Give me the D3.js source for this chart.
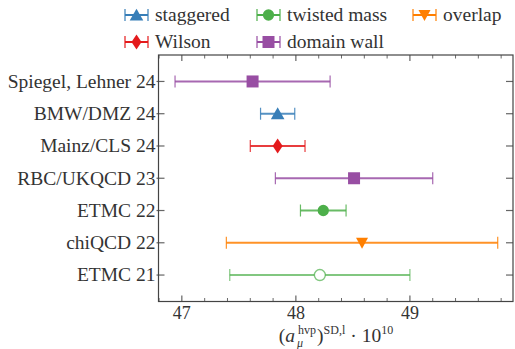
<!DOCTYPE html>
<html>
<head>
<meta charset="utf-8">
<script src="https://cdn.jsdelivr.net/npm/d3@7"></script>
<style>
  html, body { margin: 0; padding: 0; background: #fff; }
  svg { display: block; }
  svg text { font-family: "Liberation Serif", "DejaVu Serif", serif; fill: #333; }
</style>
</head>
<body>
<svg id="chart" width="515" height="349"></svg>
<script>
// Results, listed bottom to top
const labels = ["ETMC 21", "chiQCD 22", "ETMC 22", "RBC/UKQCD 23", "Mainz/CLS 24", "BMW/DMZ 24", "Spiegel, Lehner 24"];
const values = [48.21, 48.58, 48.24, 48.51, 47.84, 47.84, 47.62];
const errors = [0.79, 1.19, 0.20, 0.69, 0.24, 0.15, 0.68];
const actions = ["twisted mass", "overlap", "twisted mass", "domain wall", "Wilson", "staggered", "domain wall"];
const openMarker = [true, false, false, false, false, false, false];

// Lattice fermion discretisations (legend order)
const legendRows = [["staggered", "twisted mass", "overlap"], ["Wilson", "domain wall"]];
const actionColor = {
  "staggered": "#377eb8",
  "twisted mass": "#4daf4a",
  "overlap": "#ff7f00",
  "Wilson": "#e41a1c",
  "domain wall": "#984ea3"
};
const xTicks = [47, 48, 49];

const FS = 19.5;
const SERIF = "Liberation Serif, DejaVu Serif, serif";
const svg = d3.select("#chart");
const plot = { left: 158.5, right: 513, top: 55, bottom: 301.5 };

const x = d3.scaleLinear().domain([46.795, 49.904]).range([plot.left, plot.right]);
const y = d3.scaleLinear().domain([-0.82, 6.82]).range([plot.bottom, plot.top]);

// marker shapes
function markerPath(action) {
  switch (action) {
    case "staggered": return d3.symbol().type(d3.symbolTriangle).size(80)();
    case "twisted mass": return d3.symbol().type(d3.symbolCircle).size(100)();
    case "overlap": return "M-6,-5L6,-5L0,6Z";
    case "Wilson": return "M0,-7.5L5,0L0,7.5L-5,0Z";
    case "domain wall": return "M-6,-6L6,-6L6,6L-6,6Z";
  }
}
function markerOffset(action) {
  return action === "staggered" ? 1.5 : 0;
}

const axisColor = "#444";
const tickColor = "#666";

// x axis ticks (bottom and top, pointing inward)
const minor = d3.range(46.8, 49.91, 0.2).filter(v => !xTicks.some(t => Math.abs(t - v) < 1e-6));
const gTicks = svg.append("g");
xTicks.forEach(t => {
  gTicks.append("line").attr("x1", x(t)).attr("x2", x(t)).attr("y1", plot.bottom).attr("y2", plot.bottom - 6)
    .attr("stroke", axisColor).attr("stroke-width", 1);
  gTicks.append("line").attr("x1", x(t)).attr("x2", x(t)).attr("y1", plot.top).attr("y2", plot.top + 6)
    .attr("stroke", axisColor).attr("stroke-width", 1);
});
minor.forEach(t => {
  gTicks.append("line").attr("x1", x(t)).attr("x2", x(t)).attr("y1", plot.bottom).attr("y2", plot.bottom - 3.5)
    .attr("stroke", axisColor).attr("stroke-width", 0.8);
  gTicks.append("line").attr("x1", x(t)).attr("x2", x(t)).attr("y1", plot.top).attr("y2", plot.top + 3.5)
    .attr("stroke", axisColor).attr("stroke-width", 0.8);
});

// y ticks on both sides
labels.forEach((l, i) => {
  gTicks.append("line").attr("x1", plot.left - 2).attr("x2", plot.left + 6).attr("y1", y(i)).attr("y2", y(i))
    .attr("stroke", tickColor).attr("stroke-width", 1.2);
  gTicks.append("line").attr("x1", plot.right - 7).attr("x2", plot.right).attr("y1", y(i)).attr("y2", y(i))
    .attr("stroke", tickColor).attr("stroke-width", 1.2);
});

svg.append("rect").attr("x", plot.left).attr("y", plot.top)
  .attr("width", plot.right - plot.left).attr("height", plot.bottom - plot.top)
  .attr("fill", "none").attr("stroke", axisColor).attr("stroke-width", 1.2);

// tick labels
svg.append("g").selectAll("text").data(xTicks).join("text")
  .attr("x", d => x(d)).attr("y", plot.bottom + 17.5)
  .attr("font-family", SERIF)
  .attr("text-anchor", "middle").attr("font-size", 18).text(d => d);

svg.append("g").selectAll("text").data(labels).join("text")
  .attr("x", plot.left - 3).attr("y", (d, i) => y(i)).attr("dy", "0.33em")
  .attr("font-family", SERIF)
  .attr("text-anchor", "end").attr("font-size", FS).text(d => d);

// x axis label: (a_mu^hvp)^{SD,l} · 10^10, built piece by piece
const xlY = 342;
function piece(txt, dy, size, italic) {
  return svg.append("text").attr("y", xlY + dy).attr("font-size", size)
    .attr("font-family", SERIF)
    .attr("font-style", italic ? "italic" : null).text(txt);
}
const pOpen = piece("(", 0, FS);
const pA = piece("a", 0, FS, true);
const pHvp = piece("hvp", -8, 12);
const pMu = piece("μ", 5, 12, true);
const pClose = piece(")", 0, FS);
const pSD = piece("SD,l", -8, 12);
const pDot = piece("· 10", 0, FS);
const pExp = piece("10", -8, 12);
const w = t => t.node().getComputedTextLength();
const scriptW = Math.max(w(pHvp), w(pMu));
const total = w(pOpen) + w(pA) + 3 + scriptW + 1 + w(pClose) + w(pSD) + 5 + w(pDot) + w(pExp);
let cx = 336 - total / 2;
pOpen.attr("x", cx); cx += w(pOpen);
pA.attr("x", cx); cx += w(pA) + 3;
pHvp.attr("x", cx); pMu.attr("x", cx - 1); cx += scriptW + 1;
pClose.attr("x", cx); cx += w(pClose);
pSD.attr("x", cx); cx += w(pSD) + 5;
pDot.attr("x", cx); cx += w(pDot);
pExp.attr("x", cx);

// error bars with markers
const rows = svg.append("g").selectAll("g").data(values.map((v, i) => ({
  v, e: errors[i], a: actions[i], open: openMarker[i], i
}))).join("g");

rows.each(function (d) {
  const g = d3.select(this);
  const c = actionColor[d.a];
  const op = d.open ? 0.7 : 0.85;
  const yy = y(d.i);
  g.append("line").attr("x1", x(d.v - d.e)).attr("x2", x(d.v + d.e)).attr("y1", yy).attr("y2", yy)
    .attr("stroke", c).attr("stroke-width", 2).attr("stroke-opacity", op);
  [d.v - d.e, d.v + d.e].forEach(b => {
    g.append("line").attr("x1", x(b)).attr("x2", x(b)).attr("y1", yy - 6).attr("y2", yy + 6)
      .attr("stroke", c).attr("stroke-width", 1.2).attr("stroke-opacity", op);
  });
  if (d.open) {
    g.append("circle").attr("cx", x(d.v)).attr("cy", yy).attr("r", 5.5)
      .attr("fill", "#fff").attr("stroke", c).attr("stroke-opacity", 0.7).attr("stroke-width", 1.4);
  } else {
    g.append("path").attr("d", markerPath(d.a))
      .attr("transform", `translate(${x(d.v)},${yy + markerOffset(d.a)})`)
      .attr("fill", c);
  }
});

// legend
const legendX = [[125, 257, 413], [125, 257]];
const legendY = [15, 42];
legendRows.forEach((row, r) => {
  row.forEach((a, k) => {
    const g = svg.append("g").attr("transform", `translate(${legendX[r][k]},${legendY[r]})`);
    const c = actionColor[a];
    g.append("line").attr("x1", 0).attr("x2", 23).attr("stroke", c).attr("stroke-width", 2);
    [0, 23].forEach(b => g.append("line").attr("x1", b).attr("x2", b).attr("y1", -6).attr("y2", 6)
      .attr("stroke", c).attr("stroke-width", 1.2));
    g.append("path").attr("d", markerPath(a))
      .attr("transform", `translate(11.5,${markerOffset(a)})`).attr("fill", c);
    g.append("text").attr("x", 30).attr("dy", "0.33em")
      .attr("font-family", SERIF).attr("font-size", FS).text(a);
  });
});
</script>
</body>
</html>
